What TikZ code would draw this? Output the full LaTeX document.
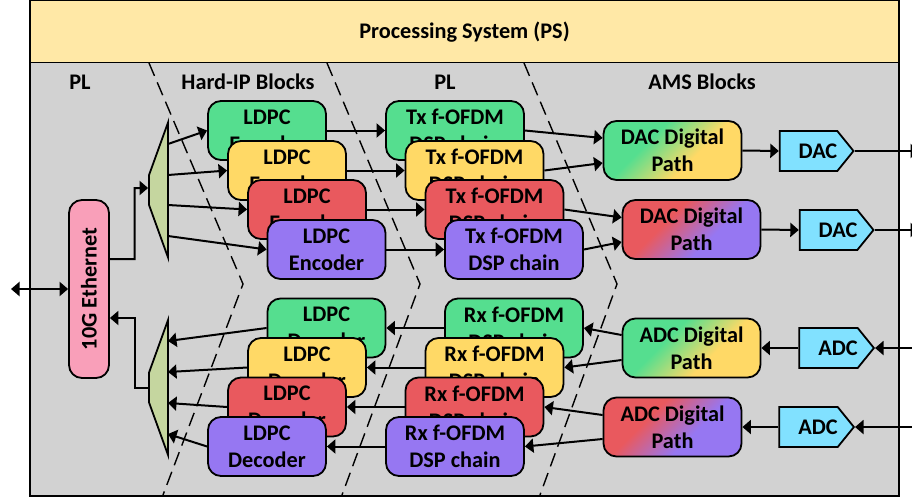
\documentclass[tikz,border=0pt]{standalone}
\usepackage{fontspec}
\setmainfont{Carlito}
\usetikzlibrary{arrows.meta,shapes.geometric,shapes.symbols,calc}
\definecolor{cgreen}{HTML}{55DE8F}
\definecolor{cyellow}{HTML}{FFD966}
\definecolor{cred}{HTML}{E9595E}
\definecolor{cpurple}{HTML}{9677F2}
\definecolor{ccyan}{HTML}{81E1FF}
\definecolor{cgray}{HTML}{D2D2D2}
\definecolor{cps}{HTML}{FFE8A6}
\definecolor{cmux}{HTML}{C5D69F}
\definecolor{cpink}{HTML}{F99FB9}
\pgfdeclarehorizontalshading{gy}{100bp}{color(0bp)=(cgreen); color(38bp)=(cgreen); color(60bp)=(cyellow); color(100bp)=(cyellow)}
\pgfdeclarehorizontalshading{rp}{100bp}{color(0bp)=(cred); color(38bp)=(cred); color(60bp)=(cpurple); color(100bp)=(cpurple)}
\tikzset{
  txt/.style={font=\fontsize{22.3}{27}\selectfont\bfseries},
  edge/.style={line width=1.8pt},
  blockbox/.style={txt,draw=black,edge,rounded corners=13pt,align=center,inner sep=0pt},
  ldpc/.style={blockbox,minimum width=118pt,minimum height=59pt},
  dsp/.style={blockbox,minimum width=138pt,minimum height=59pt},
  conv/.style={txt,draw=black,edge,fill=ccyan,signal,signal to=east,signal pointer angle=102,minimum width=73pt,minimum height=40pt,inner sep=0pt},
  muxbox/.style={draw=black,edge,fill=cmux,trapezium,trapezium left angle=32,trapezium right angle=32,trapezium stretches=true,minimum width=135pt,minimum height=19pt,inner sep=0pt,rotate=90},
  sep/.style={line width=1.4pt,dash pattern=on 14pt off 7pt},
  conn/.style={line width=2pt,-{Triangle[length=8.5pt,width=14pt]}},
  conn2/.style={line width=2pt,{Triangle[length=8.5pt,width=14pt]}-{Triangle[length=8.5pt,width=14pt]}},
  head/.style={txt,inner sep=0pt}
}
\begin{document}
\begin{tikzpicture}[x=1pt,y=-1pt]
\clip (0,0) rectangle (912,499);
\fill[white] (0,0) rectangle (912,499);
\node[draw=black,edge,fill=cgray,minimum width=869pt,minimum height=434pt,inner sep=0pt] (pl) at (464.5,279) {};
\node[draw=black,edge,fill=cps,minimum width=869pt,minimum height=62pt,inner sep=0pt,txt] (ps) at (464.5,31.5) {\raisebox{-6.5pt}[0pt][0pt]{Processing System (PS)}};
\node[head] (h1) at (80,82) {PL};
\node[head] (h2) at (248,82) {Hard-IP Blocks};
\node[head] (h3) at (445,82) {PL};
\node[head] (h4) at (702,82) {AMS Blocks};
% region separators
\coordinate (s1a) at (149,63); \coordinate (s1b) at (243,284); \coordinate (s1c) at (163,495);
\coordinate (s2a) at (327,63); \coordinate (s2b) at (420,284); \coordinate (s2c) at (342,495);
\coordinate (s3a) at (524,63); \coordinate (s3b) at (617,284); \coordinate (s3c) at (540,495);
\draw[sep] (s1a) -- (s1b) -- (s1c);
\draw[sep] (s2a) -- (s2b) -- (s2c);
\draw[sep] (s3a) -- (s3b) -- (s3c);
% ethernet and muxes
\node[draw=black,edge,fill=cpink,rounded corners=13pt,minimum width=40pt,minimum height=178pt,inner sep=0pt] (eth) at (89,289) {};
\node[txt,rotate=90] (ethl) at (eth.center) {10G Ethernet};
\node[muxbox] (muxa) at (158.5,190) {\phantom{x}};
\node[muxbox] (muxb) at (158.5,387.5) {\phantom{x}};
% encoders
\node[ldpc,fill=cgreen] (e1) at (267,130.5) {LDPC\\Encoder};
\node[ldpc,fill=cyellow] (e2) at (287,170.5) {LDPC\\Encoder};
\node[ldpc,fill=cred] (e3) at (307,209.5) {LDPC\\Encoder};
\node[ldpc,fill=cpurple] (e4) at (326.5,249.5) {LDPC\\Encoder};
% tx chains
\node[dsp,fill=cgreen] (t1) at (455,130.5) {Tx f-OFDM\\DSP chain};
\node[dsp,fill=cyellow] (t2) at (474.5,170.5) {Tx f-OFDM\\DSP chain};
\node[dsp,fill=cred] (t3) at (494.5,209.5) {Tx f-OFDM\\DSP chain};
\node[dsp,fill=cpurple] (t4) at (514,249.5) {Tx f-OFDM\\DSP chain};
% decoders
\node[ldpc,fill=cgreen] (d1) at (326.5,328) {LDPC\\Decoder};
\node[ldpc,fill=cyellow] (d2) at (307,367.5) {LDPC\\Decoder};
\node[ldpc,fill=cred] (d3) at (287,407) {LDPC\\Decoder};
\node[ldpc,fill=cpurple] (d4) at (267,446.5) {LDPC\\Decoder};
% rx chains
\node[dsp,fill=cgreen] (r1) at (514,328) {Rx f-OFDM\\DSP chain};
\node[dsp,fill=cyellow] (r2) at (494.5,367.5) {Rx f-OFDM\\DSP chain};
\node[dsp,fill=cred] (r3) at (474.5,407) {Rx f-OFDM\\DSP chain};
\node[dsp,fill=cpurple] (r4) at (455,446.5) {Rx f-OFDM\\DSP chain};
% digital paths
\node[dsp,shading=gy,shading angle=-45] (dp1) at (672.5,150.5) {DAC Digital\\Path};
\node[dsp,shading=rp,shading angle=-45] (dp2) at (691.5,229.5) {DAC Digital\\Path};
\node[dsp,shading=gy,shading angle=-45] (ap1) at (691.5,348) {ADC Digital\\Path};
\node[dsp,shading=rp,shading angle=-45] (ap2) at (672.5,427) {ADC Digital\\Path};
% converters
\node[conv] (dac1) at (808.5,151) {\hspace*{19pt}DAC};
\node[conv] (dac2) at (828.5,230) {\hspace*{19pt}DAC};
\node[conv] (adc1) at (828.5,348) {\hspace*{19pt}ADC};
\node[conv] (adc2) at (808.5,427) {\hspace*{19pt}ADC};
% free ends
\coordinate (extl) at (11,289);
\coordinate (o1) at (919,151); \coordinate (o2) at (919,230);
\coordinate (i1) at (925,348); \coordinate (i2) at (925,427);
% connectors
\draw[conn2] (extl) -- (eth.west);
\draw[conn] ($(eth.east)+(0,-30)$) -| (134.5,188) -- ($(muxa.north)+(0,-2)$);
\draw[conn] (muxb.north) -| (134.5,318) -- ($(eth.east)+(0,29)$);
\draw[conn] (168,144) -- (e1.west);
\draw[conn] (168,175) -- (e2.west);
\draw[conn] (168,205) -- (e3.west);
\draw[conn] (168,236) -- (e4.west);
\draw[conn] (d1.west) -- (168,341);
\draw[conn] (d2.west) -- (168,372);
\draw[conn] (d3.west) -- (168,403);
\draw[conn] (d4.west) -- (168,434);
\draw[conn] (e1.east) -- (t1.west);
\draw[conn] (e2.east) -- (t2.west);
\draw[conn] (e3.east) -- (t3.west);
\draw[conn] (e4.east) -- (t4.west);
\draw[conn] (r1.west) -- (d1.east);
\draw[conn] (r2.west) -- (d2.east);
\draw[conn] (r3.west) -- (d3.east);
\draw[conn] (r4.west) -- (d4.east);
\draw[conn] (t1.east) -- ($(dp1.west)+(0,-12.5)$);
\draw[conn] (t2.east) -- ($(dp1.west)+(0,12.5)$);
\draw[conn] (t3.east) -- ($(dp2.west)+(0,-12)$);
\draw[conn] (t4.east) -- ($(dp2.west)+(0,12.5)$);
\draw[conn] ($(ap1.west)+(0,-13)$) -- (r1.east);
\draw[conn] ($(ap1.west)+(0,12)$) -- (r2.east);
\draw[conn] ($(ap2.west)+(0,-12)$) -- (r3.east);
\draw[conn] ($(ap2.west)+(0,12)$) -- (r4.east);
\draw[conn] (dp1.east) -- (dac1.west);
\draw[conn] (dp2.east) -- (dac2.west);
\draw[conn] (adc1.west) -- (ap1.east);
\draw[conn] (adc2.west) -- (ap2.east);
\draw[conn] (dac1.east) -- (o1);
\draw[conn] (dac2.east) -- (o2);
\draw[conn] (i1) -- (adc1.east);
\draw[conn] (i2) -- (adc2.east);
\end{tikzpicture}
\end{document}
